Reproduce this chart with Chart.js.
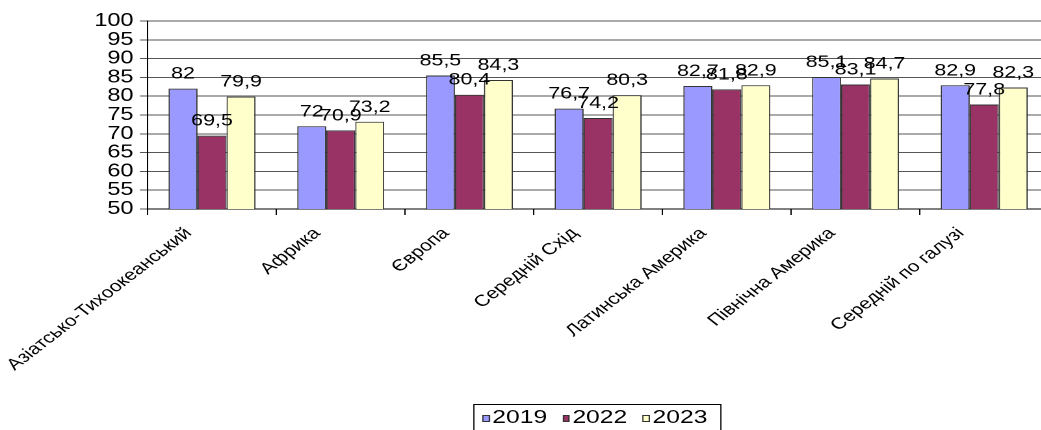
<!DOCTYPE html>
<html>
<head>
<meta charset="utf-8">
<script src="https://cdn.jsdelivr.net/npm/chart.js"></script>
<style>
body{margin:0;overflow:hidden;background:#fff;width:1041px;height:430px;}
#wrap{position:absolute;left:0;top:0;width:820px;height:430px;transform:scaleX(1.3);transform-origin:0 0;}
#legend{position:absolute;left:364px;top:404px;width:191px;height:40px;border:1px solid #000;box-sizing:border-box;font:19px "Liberation Sans",Arial,sans-serif;color:#000;}
#legend .sq{position:absolute;top:10px;width:5.5px;height:7px;border:1px solid #333;box-sizing:border-box;}
#legend .tx{position:absolute;top:2px;line-height:19px;white-space:nowrap;}
</style>
</head>
<body>
<div id="wrap">
<canvas id="chart" width="820" height="430"></canvas>
<div id="legend"></div>
</div>
<script>
const regions=['Азіатсько-Тихоокеанський','Африка','Європа','Середній Схід','Латинська Америка','Північна Америка','Середній по галузі'];
const years=['2019','2022','2023'];
const v2019=[82,72,85.5,76.7,82.7,85.1,82.9];
const v2022=[69.5,70.9,80.4,74.2,81.8,83.1,77.8];
const v2023=[79.9,73.2,84.3,80.3,82.9,84.7,82.3];
const colors=['#9999FF','#993366','#FFFFCC'];
const yMin=50,yMax=100,yStep=5;

// value above every bar, decimal comma
const valueLabels={
id:'valueLabels',
afterDatasetsDraw(chart){
let ctx=chart.ctx;
ctx.save();
ctx.font='16.5px "Liberation Sans"';
ctx.fillStyle='#000';
ctx.textAlign='center';
ctx.textBaseline='alphabetic';
chart.data.datasets.forEach((ds,i)=>{
chart.getDatasetMeta(i).data.forEach((bar,j)=>{
ctx.fillText(String(ds.data[j]).replace('.',','),bar.x,bar.y-10);
});
});
ctx.restore();
}
};

let series=[v2019,v2022,v2023];

new Chart(document.getElementById("chart"),{
type:'bar',
data:{
labels:regions,
datasets:series.map((d,i)=>({
label:years[i],
data:d,
backgroundColor:colors[i],
borderColor:'#333',
borderWidth:1,
borderSkipped:false,
barPercentage:1,
categoryPercentage:0.676
}))
},
options:{
responsive:false,
animation:false,
devicePixelRatio:2,
layout:{padding:{top:21,right:13.4,bottom:0,left:0}},
plugins:{legend:{display:false},tooltip:{enabled:false}},
scales:{
x:{
ticks:{autoSkip:false,minRotation:45,maxRotation:45,labelOffset:-18,padding:9,color:'#000',font:{family:'Liberation Sans',size:16}},
grid:{drawOnChartArea:false,tickLength:6,tickColor:'#000'},
border:{color:'#000',width:1},
afterFit(s){s.height=221;}
},
y:{
min:yMin,max:yMax,
ticks:{stepSize:yStep,padding:5,color:'#000',font:{family:'Liberation Sans',size:18,lineHeight:0.8}},
grid:{color:'#555',tickLength:6,tickColor:'#555'},
border:{color:'#000',width:1},
afterFit(s){s.width=113.6;}
}
}
},
plugins:[valueLabels]
});

// legend box under the plot
function buildLegend(){
let box=document.getElementById("legend");
let x=6;
years.forEach((y,i)=>{
let sq=document.createElement("div");
sq.className="sq";
sq.style.left=x+"px";
sq.style.background=colors[i];
box.appendChild(sq);
let tx=document.createElement("span");
tx.className="tx";
tx.style.left=(x+7.7)+"px";
tx.innerText=y;
box.appendChild(tx);
x+=61.6;
});
}
buildLegend();
</script>
</body>
</html>
